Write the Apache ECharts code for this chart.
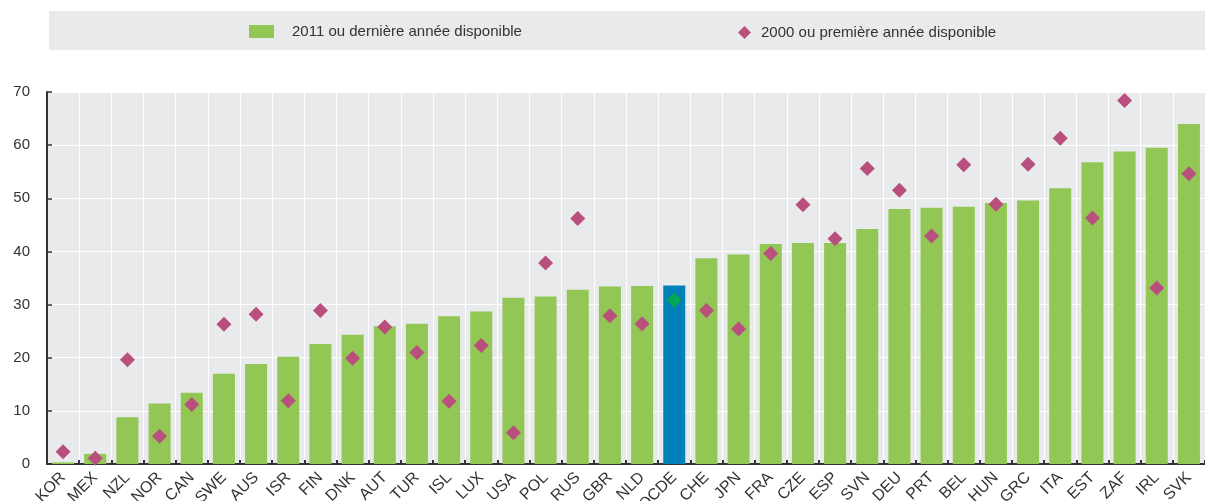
<!DOCTYPE html>
<html>
<head>
<meta charset="utf-8">
<script src="https://cdn.jsdelivr.net/npm/echarts@6/dist/echarts.min.js"></script>
<style>
  html, body { margin: 0; padding: 0; background: #fff; }
  #main { width: 1205px; height: 501px; }
</style>
</head>
<body>
<div id="main"></div>
<script>
var countries = ['KOR','MEX','NZL','NOR','CAN','SWE','AUS','ISR','FIN','DNK','AUT','TUR','ISL','LUX','USA','POL','RUS','GBR','NLD','OCDE','CHE','JPN','FRA','CZE','ESP','SVN','DEU','PRT','BEL','HUN','GRC','ITA','EST','ZAF','IRL','SVK'];
var latest = [0.3,1.9,8.8,11.4,13.4,17.0,18.8,20.2,22.6,24.3,25.9,26.4,27.8,28.7,31.3,31.5,32.8,33.4,33.5,33.6,38.7,39.4,41.4,41.6,41.6,44.2,48.0,48.2,48.4,49.1,49.6,51.9,56.8,58.8,59.5,64.0];
var first = [2.3,1.1,19.6,5.2,11.2,26.3,28.2,11.9,28.9,19.9,25.8,21.0,11.8,22.3,5.9,37.8,46.2,27.9,26.4,30.8,28.9,25.4,39.6,48.8,42.4,55.6,51.5,42.9,56.3,48.9,56.4,61.3,46.3,68.4,33.1,54.6];
var yTicks = [0,10,20,30,40,50,60,70];

var nameLatest = '2011 ou dernière année disponible';
var nameFirst = '2000 ou première année disponible';

var chart = echarts.init(document.getElementById('main'));

// OCDE average gets its own colours
var barData = latest.map(function (v, i) {
    if (countries[i] === 'OCDE') return {value: v, itemStyle: {color: '#0080b8'}};
    return v;
});
var dotData = first.map(function (v, i) {
    if (countries[i] === 'OCDE') return {value: v, itemStyle: {color: '#00a650'}};
    return v;
});

chart.setOption({
    animation: false,
    textStyle: {fontFamily: 'Liberation Sans'},
    graphic: [{
        type: 'rect',
        shape: {x: 49, y: 11, width: 1156, height: 39},
        style: {fill: '#e9eaec'},
        z: -1
    }],
    legend: [{
        data: [nameLatest],
        left: 249, top: 24, padding: 0,
        itemWidth: 25, itemHeight: 13,
        icon: 'rect',
        textStyle: {fontSize: 15, color: '#333', padding: [3, 0, 0, 13]}
    }, {
        data: [nameFirst],
        left: 738, top: 25, padding: 0,
        itemWidth: 13, itemHeight: 13,
        icon: 'diamond',
        textStyle: {fontSize: 15, color: '#333', padding: [1, 0, 0, 5]}
    }],
    grid: {
        left: 47, right: 0, top: 92, bottom: 37,
        outerBoundsMode: 'none', containLabel: false,
        show: true, backgroundColor: '#e9eaec', borderWidth: 0
    },
    xAxis: {
        type: 'category',
        data: countries,
        axisLine: {lineStyle: {color: '#333', width: 2}},
        axisTick: {show: true, inside: true, length: 4, lineStyle: {color: '#333', width: 2}},
        splitLine: {show: true, interval: 0, lineStyle: {color: '#fff', width: 1}},
        axisLabel: {rotate: 45, interval: 0, fontSize: 16, color: '#333', margin: 11}
    },
    yAxis: {
        type: 'value',
        min: yTicks[0], max: yTicks[yTicks.length - 1], interval: 10,
        axisLine: {show: true, lineStyle: {color: '#333', width: 2}},
        axisTick: {show: true, inside: true, length: 5, lineStyle: {color: '#333', width: 1.5}},
        splitLine: {lineStyle: {color: '#fff', width: 1}},
        axisLabel: {fontSize: 15, color: '#333', margin: 17}
    },
    series: [{
        name: nameLatest,
        type: 'bar',
        data: barData,
        barWidth: 22,
        itemStyle: {color: '#92c655'},
        z: 2
    }, {
        name: nameFirst,
        type: 'scatter',
        data: dotData,
        symbol: 'diamond',
        symbolSize: 15,
        itemStyle: {color: '#b94f7c', opacity: 1},
        z: 3
    }]
});
</script>
</body>
</html>
